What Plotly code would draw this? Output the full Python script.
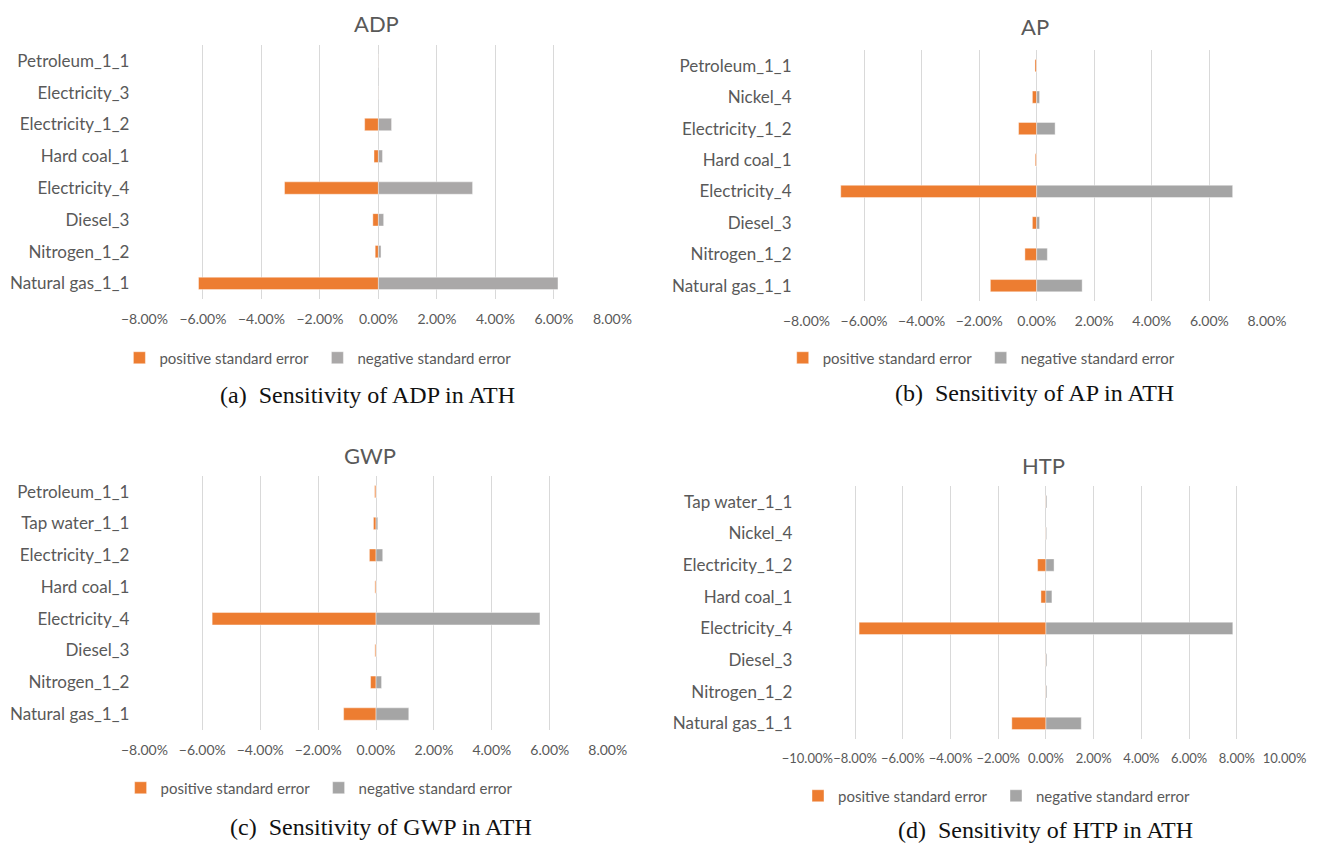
import plotly.graph_objects as go

W, H = 1320, 845

# ---- data (top-to-bottom category order, values as fractions) ----
adp_cats = ["Petroleum_1_1", "Electricity_3", "Electricity_1_2", "Hard coal_1",
            "Electricity_4", "Diesel_3", "Nitrogen_1_2", "Natural gas_1_1"]
adp_pos = [-0.0001, -0.0001, -0.0047, -0.0015, -0.0321, -0.0019, -0.0011, -0.0615]
adp_neg = [0.0002, 0.0002, 0.0045, 0.0014, 0.0322, 0.0018, 0.0009, 0.0614]

ap_cats = ["Petroleum_1_1", "Nickel_4", "Electricity_1_2", "Hard coal_1",
           "Electricity_4", "Diesel_3", "Nitrogen_1_2", "Natural gas_1_1"]
ap_pos = [-0.0006, -0.0015, -0.0063, -0.0005, -0.0681, -0.0015, -0.0041, -0.0161]
ap_neg = [0.0001, 0.0010, 0.0064, 0.0001, 0.0681, 0.0010, 0.0037, 0.0158]

gwp_cats = ["Petroleum_1_1", "Tap water_1_1", "Electricity_1_2", "Hard coal_1",
            "Electricity_4", "Diesel_3", "Nitrogen_1_2", "Natural gas_1_1"]
gwp_pos = [-0.0005, -0.0009, -0.0023, -0.0004, -0.0566, -0.0004, -0.0019, -0.0112]
gwp_neg = [0.0001, 0.0006, 0.0023, 0.0001, 0.0566, 0.0001, 0.0019, 0.0113]

htp_cats = ["Tap water_1_1", "Nickel_4", "Electricity_1_2", "Hard coal_1",
            "Electricity_4", "Diesel_3", "Nitrogen_1_2", "Natural gas_1_1"]
htp_pos = [-0.0001, -0.0001, -0.0035, -0.0021, -0.0783, -0.0001, -0.0001, -0.0143]
htp_neg = [0.0004, 0.0003, 0.0034, 0.0025, 0.0783, 0.0004, 0.0004, 0.0148]

titles = ["ADP", "AP", "GWP", "HTP"]
captions = ["(a)  Sensitivity of ADP in ATH", "(b)  Sensitivity of AP in ATH",
            "(c)  Sensitivity of GWP in ATH", "(d)  Sensitivity of HTP in ATH"]
series_names = ["positive standard error", "negative standard error"]

ORANGE = "#ED7D31"
TXT = "#595959"
GRID = "#D9D9D9"
SANS = "Lato"

# panel geometry in pixels: (x0, x1, ytop, ybottom)
panels = [
    dict(cats=adp_cats, pos=adp_pos, neg=adp_neg, px=(144.4, 612.4), py=(45, 299.3), rng=0.08,
         title_xy=(376, 23), leg=(147.4, 358), cap=(367, 395), tfs=14, gray="#AAA8A8"),
    dict(cats=ap_cats, pos=ap_pos, neg=ap_neg, px=(806.5, 1266.9), py=(50, 301.4), rng=0.08,
         title_xy=(1035, 27), leg=(810.7, 358), cap=(1034, 393), tfs=14, gray="#A5A5A5"),
    dict(cats=gwp_cats, pos=gwp_pos, neg=gwp_neg, px=(144.4, 607.7), py=(475.8, 729.9), rng=0.08,
         title_xy=(370, 455), leg=(148.6, 788), cap=(381, 827), tfs=14, gray="#A5A5A5"),
    dict(cats=htp_cats, pos=htp_pos, neg=htp_neg, px=(807.3, 1284.6), py=(485.9, 739.2), rng=0.10,
         title_xy=(1043, 465), leg=(826, 796), cap=(1045, 830), tfs=13, gray="#A5A5A5"),
]

fig = go.Figure()
annotations = []
layout_axes = {}

for i, p in enumerate(panels):
    n = "" if i == 0 else str(i + 1)
    xa, ya = "x" + n, "y" + n
    lg = "legend" + n
    fig.add_trace(go.Bar(y=p["cats"], x=p["pos"], orientation="h", name=series_names[0],
                         marker=dict(color=ORANGE, line=dict(color="rgba(255,255,255,0.7)", width=0.6)),
                         xaxis=xa, yaxis=ya, legend=lg, hoverinfo="skip"))
    fig.add_trace(go.Bar(y=p["cats"], x=p["neg"], orientation="h", name=series_names[1],
                         marker=dict(color=p["gray"], line=dict(color="rgba(255,255,255,0.7)", width=0.6)),
                         xaxis=xa, yaxis=ya, legend=lg, hoverinfo="skip"))
    x0, x1 = p["px"]
    yt, yb = p["py"]
    r = p["rng"]
    layout_axes["xaxis" + n] = dict(
        domain=[x0 / W, x1 / W], anchor=ya, range=[-r, r], dtick=0.02, tick0=0,
        tickformat=".2%", showgrid=True, gridcolor=GRID, gridwidth=1,
        zeroline=True, zerolinecolor=GRID, zerolinewidth=1, showline=False,
        ticks="", ticklabelstandoff=10, tickangle=0, automargin=False,
        tickfont=dict(family=SANS, size=p["tfs"], color=TXT), fixedrange=True)
    layout_axes["yaxis" + n] = dict(
        domain=[1 - yb / H, 1 - yt / H], anchor=xa, type="category",
        categoryorder="array", categoryarray=p["cats"], autorange="reversed",
        showgrid=False, zeroline=False, showline=False, ticks="", automargin=False,
        ticklabelstandoff=14, tickfont=dict(family=SANS, size=17, color=TXT),
        fixedrange=True)
    tx, ty = p["title_xy"]
    annotations.append(dict(text=titles[i], x=tx / W, y=1 - ty / H, xref="paper", yref="paper",
                            xanchor="center", yanchor="middle", showarrow=False,
                            font=dict(family=SANS, size=22, color=TXT)))
    cx, cy = p["cap"]
    annotations.append(dict(text=captions[i], x=cx / W, y=1 - cy / H, xref="paper", yref="paper",
                            xanchor="center", yanchor="middle", showarrow=False,
                            font=dict(family="Liberation Serif", size=24, color="#111111")))
    lx, ly = p["leg"]
    layout_axes[lg] = dict(orientation="h", x=(lx - 28) / W, y=1 - ly / H, xanchor="left",
                           yanchor="middle", bgcolor="rgba(0,0,0,0)", itemwidth=30,
                           entrywidth=153, entrywidthmode="pixels",
                           font=dict(family=SANS, size=15, color=TXT),
                           itemclick=False, itemdoubleclick=False)

fig.update_layout(
    width=W, height=H, margin=dict(l=0, r=0, t=0, b=0, autoexpand=False),
    paper_bgcolor="white", plot_bgcolor="white",
    barmode="relative", bargap=0.61, showlegend=True,
    annotations=annotations, **layout_axes)

fig.write_html("out.html", config={"displayModeBar": False},
               post_script="document.body.style.margin='0px';")
